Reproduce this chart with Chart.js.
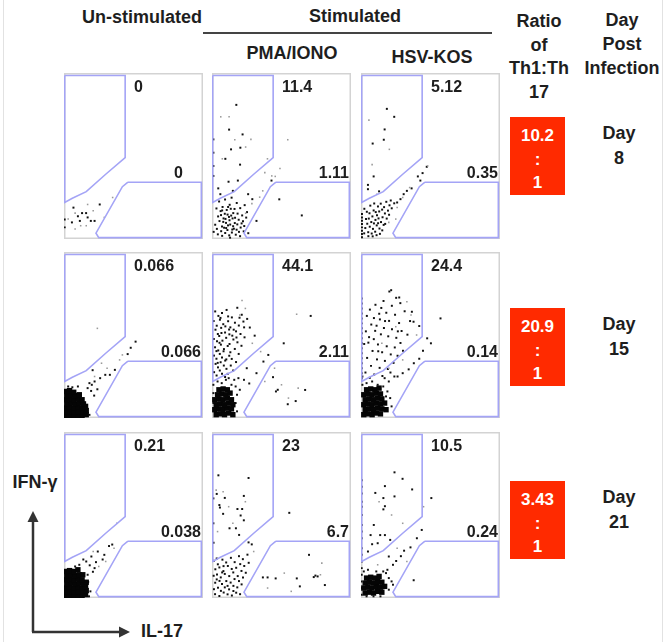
<!DOCTYPE html>
<html><head><meta charset="utf-8">
<script src="https://cdn.jsdelivr.net/npm/chart.js@4/dist/chart.umd.min.js"></script>
<style>
html,body{margin:0;padding:0}
body{width:664px;height:642px;background:#fff;overflow:hidden;position:relative;font-family:"Liberation Sans",Arial,Helvetica,sans-serif;font-weight:bold;color:#1e1e1e}
.t{position:absolute;transform:translate(-50%,-50%);white-space:nowrap;font-size:18px;line-height:1}
.p{position:absolute;width:147px;height:174px}
.box{position:absolute;left:510px;width:55px;height:78px;background:#ff2a00}
.w{color:#fff;font-size:17px}
.edge{position:absolute;top:0;width:1px;height:642px;background:#e2e2e2}
</style></head>
<body>
<div class="edge" style="left:3px"></div>
<div class="edge" style="left:662px"></div>
<div style="position:absolute;left:203px;top:32px;width:289px;height:2px;background:#444"></div>
<svg width="664" height="642" style="position:absolute;left:0;top:0">
  <line x1="33" y1="632" x2="33" y2="519" stroke="#333" stroke-width="2.5"/>
  <polygon points="33,511 27.5,522 38.5,522" fill="#333"/>
  <line x1="32" y1="632" x2="121" y2="632" stroke="#333" stroke-width="2.5"/>
  <polygon points="130,632 119,626.5 119,637.5" fill="#333"/>
</svg>
<script>
// ---- categories ----
const conditions = ['Un-stimulated', 'PMA/IONO', 'HSV-KOS'];
const days = ['8', '15', '21'];
const ratios = ['10.2', '20.9', '3.43'];
// gate percentages (IFN-γ+ upper gate, IL-17+ lower gate) per row
const ifnGammaPct = [['0', '11.4', '5.12'], ['0.066', '44.1', '24.4'], ['0.21', '23', '10.5']];
const il17Pct = [['0', '1.11', '0.35'], ['0.066', '2.11', '0.14'], ['0.038', '6.7', '0.24']];
// gate outlines in plot units (IL-17 on x, IFN-γ on y, 0-100)
const ifnGateX = [0.5, 44, 44, 30, 16, 6, 0.5, 0.5];
const ifnGateY = [98.5, 98.5, 49, 39, 28.5, 24.5, 22, 98.5];
const il17GateX = [46, 98.8, 98.8, 25, 23, 42, 46];
const il17GateY = [34.2, 34.2, 0.8, 0.8, 3.5, 31.5, 34.2];

// ---- events (x = IL-17, y = IFN-γ), flat x,y pairs ----
// Day 8
const d8_unstim_dots = [25.7,20.8, 13,15.6, 15.9,15.6, 19.3,10.9, 22,10.9, 10,13.7, 0.5,11.8, 0.5,7, 6.8,18.9, 11.4,10.9, 5.7,10, 17,13];
const d8_unstim_faint = [17,20.8, 8,15.6, 3,12, 8,6, 16,8, 29,13, 35,25, 21,17, 12,8];
const d8_unstim_dense = [];
const d8_pma_dots = [17.5,80.8, 12.3,65.9, 13.7,54, 20.4,55, 22,63, 1,60, 1,44, 20.2,44.8, 9.6,48.3, 11.9,34.5, 18.6,35.2, 4.5,30.5, 42.8,35.2, 48.4,23.9, 64.6,14.2, 32,10.9, 13,0.8, 1,52, 1,38, 6,27, 15,29, 26,27, 29,24,
 3.2,18.4, 5.1,22.6, 7.6,19.3, 9.4,23.8, 12.7,20.6, 14.1,24.9, 17.8,21.7, 20.3,18.6, 23.5,20.4, 25.2,16.2,
 4.4,13.6, 6.2,16.8, 8.3,12.4, 10.6,17.5, 11.2,14.7, 13.5,18.2, 15.3,15.6, 16.6,12.8, 18.4,15.3, 19.2,11.6, 21.7,14.2, 22.3,10.7, 24.6,12.9,
 2.3,8.6, 5.4,10.8, 7.2,7.5, 8.1,10.3, 9.7,12.1, 10.2,6.6, 12.6,11.3, 13.1,8.7, 14.8,12.4, 15.2,7.7, 16.4,9.6, 17.7,5.6, 18.2,8.8, 20.6,6.9, 21.3,9.4, 23.2,7.8,
 1.2,4.3, 3.5,6.1, 4.2,2.8, 6.6,4.7, 7.3,1.9, 9.5,3.6, 11.1,5.4, 12.4,2.2, 14.3,3.9, 15.7,6.2, 17.1,2.6, 19.4,4.3, 20.2,1.7, 22.8,4.6, 26.1,3.5,
 6.5,14.4, 9.2,15.2, 11.6,19.3, 13.8,14.1, 10.1,9.7, 12.2,13.3, 8.7,6.8, 14.6,5.7, 11.5,8.2, 16.2,18.1, 7.3,17.2];
const d8_pma_faint = [6.3,73.6, 12.3,73.6, 7.4,48.3, 24.2,55.4, 54.5,59.8, 48.9,42.5, 45.5,37.7, 36.5,29, 34.3,25.2, 28.7,21.3, 24.2,15.5, 39.9,48.3, 16.4,59.8, 28,60, 38,40, 43,38];
const d8_pma_dense = [];
const d8_hsv_dots = [18.6,78.4, 23.9,73.6, 17,66, 16.4,59.8, 8.4,57.5, 9.1,37.7, 5,32.6, 5,30, 13,28.7, 36.4,30.5, 42.7,35.2, 47.3,43.5, 30.7,27, 28.4,24, 23.9,21.5, 40.9,37.7, 44.3,39.7, 33,29, 26,22,
 0.7,1, 0.7,3, 0.7,5, 0.7,7, 0.7,9, 0.7,11, 0.7,13, 0.7,15,
 2.3,3.4, 3.1,6.6, 4.5,9.2, 5.2,4.1, 5.6,12.3, 6.3,7.4, 6.1,15.5, 7.4,10.2, 7.7,3.3, 8.2,13.6, 8.6,6.1, 9.3,9.4, 9.1,17.2, 10.4,11.5, 10.2,4.4, 11.5,14.3, 11.3,8.2, 12.2,19.6, 12.6,12.4, 13.3,6.3, 13.1,16.6, 14.4,10.2, 14.2,21.3, 15.5,13.1, 15.2,17.7, 16.3,8.5, 16.6,19.2, 17.2,15.4, 18.5,12.3, 18.2,22.4, 19.4,17.1, 20.2,14.6, 20.5,20.3, 21.4,23.2, 22.1,18.5, 3.6,12.1, 4.2,16.4, 2.4,18.2, 6.7,20.1, 9.5,21.4, 11.2,2.3, 13.6,3.1, 8.4,1.6, 15.3,5.2, 17.4,9.1, 5.3,1.7, 10.6,16.2, 12.3,9.5];
const d8_hsv_faint = [5.7,71.6, 20.4,54, 8,44.8, 11.4,27, 48,44, 35,31, 30,25, 26,19, 20,10, 25,12];
const d8_hsv_dense = [];
// Day 15
const d15_unstim_dots = [20.6,28.8, 24,17.3, 33,26, 36.6,29, 45.8,38.5, 51.5,46, 48,42.3, 18.3,21, 19.5,16.3, 21.7,13.5, 29.7,26, 16,7.7, 18.3,1.9, 20,20, 22,22, 17,18, 3,19, 6,18.5, 10,19, 26,24];
const d15_unstim_faint = [24,54, 27,33, 31,30, 40,35, 42,38, 22,25];
const d15_unstim_dense = [1,1, 4,1.5, 7,1, 10,1.5, 13,1, 16,2,
 1.5,3.5, 4.5,4, 7.5,3.5, 10.5,4, 13.5,3.5, 16,4.5,
 1,6, 4,6.5, 7,6, 10,6.5, 13,6, 15.5,7,
 2,8.5, 5,9, 8,8.5, 11,9, 14,8.5,
 1,11, 4,11.5, 7,11, 10,11.5, 13,11,
 2,13.5, 5,14, 8,13.5, 11,14,
 1,16, 4,16.5, 7,15.5];
const d15_pma_dots = [2.3,64.2, 4.6,61.5, 7.2,63.3, 10.5,65.1, 14.3,60.6, 18.2,66.4, 21.4,62.2, 25.3,59.7,
 1.2,58.4, 3.4,55.6, 5.7,59.2, 8.1,56.5, 11.6,58.3, 13.2,54.6, 16.5,57.4, 19.3,55.7, 22.6,58.1, 27.2,54.5,
 2.5,53.2, 4.2,50.6, 6.6,54.3, 9.4,51.5, 12.3,53.3, 14.6,49.6, 17.3,52.2, 20.5,50.6, 23.4,48.6,
 1.3,47.6, 3.6,46.3, 5.2,49.4, 7.5,46.6, 10.2,48.3, 12.6,44.6, 15.4,47.3, 18.3,45.6, 21.2,43.5,
 2.2,42.6, 4.5,40.7, 6.4,44.2, 8.6,41.5, 11.3,43.4, 13.2,39.6, 16.4,41.6, 19.2,38.6,
 1.4,37.6, 3.2,35.7, 5.6,38.6, 7.2,36.5, 9.5,34.6, 12.4,37.5, 14.2,35.6, 17.3,33.7,
 2.6,32.6, 4.3,30.5, 6.2,33.6, 8.5,31.6, 10.4,29.6, 13.5,31.6, 15.2,28.6,
 1.5,27.6, 3.3,25.6, 5.6,28.6, 7.2,26.7, 9.4,24.7, 11.3,26.6,
 6.1,60.3, 9.6,55.2, 5.4,45.3, 8.3,40.2, 12.5,50.4, 3.2,40.3, 15.6,53.2, 10.3,35.3, 11.6,61.2, 17.6,48.5, 6.8,51.2, 19.8,60.4, 4.1,33.2, 23.1,54.6,
 1,20, 4,22, 7,21, 10,23, 14,20, 17,19, 18,14, 17,9, 18,4, 1,15, 1,9, 16,23, 12,24, 19,24, 20,17,
 30.7,49.6, 51.6,45, 71,61.5, 47.3,17, 54.5,8.3, 60.2,10.2, 67,16.9, 43.9,24.6, 40.5,38, 37,34, 26.8,20.8, 46,16, 25,30, 32,27, 23,23];
const d15_pma_faint = [21.6,70.8, 60.9,62.5, 35,40, 45,30, 50,20, 62,18, 38,22, 55,12, 29,45, 24,66, 20,62];
const d15_pma_dense = [3,2, 6,2.5, 9,2, 12,3, 15,2,
 2,5, 5,5.5, 8,5, 11,6, 14,5.5,
 3,8, 6,8.5, 9,8, 12,9, 15,8,
 2,11, 5,11.5, 8,11, 11,12, 14,11,
 4,14, 7,14.5, 10,14, 13,15,
 5,17, 8,17.5, 11,17];
const d15_hsv_dots = [20.4,76.2, 25.3,72.4, 16.2,70.5, 10.4,68.2, 14.6,66.3, 22.2,67.6, 28.3,69.2, 6.4,65.3, 18.2,63.4, 24.5,62.2, 31.4,64.3, 4.2,61.5, 9.3,60.2, 13.6,59.4, 20.2,58.5, 27.4,57.2, 35.3,58.4,
 7.4,56.3, 11.2,55.6, 16.5,54.2, 22.3,53.5, 29.2,52.4, 3.5,52.2, 14.3,50.4, 19.6,49.2, 25.4,48.3, 9.2,47.5, 33.4,50.2,
 5.3,45.4, 12.2,44.3, 18.5,43.2, 24.3,42.5, 28.4,45.2, 8.3,40.4, 15.2,39.6, 21.4,38.3, 30.2,40.5, 4.4,36.2, 11.5,35.3, 17.2,34.4, 23.4,33.2, 26.3,37.5,
 7.2,31.4, 13.4,30.2, 19.3,29.5, 3.2,27.4, 9.5,26.2, 15.4,25.3, 21.2,27.4, 6.3,24.2, 12.4,40.2, 17.3,58.4, 26.5,52.2, 10.2,52.5, 2.3,44.6, 5.8,48.7, 13.1,62.8,
 0.5,24, 0.5,27, 0.5,30, 0.5,33, 0.5,36, 0.5,39, 0.5,42, 0.5,45, 0.5,48, 0.5,51, 0.5,54, 0.5,57, 0.5,60, 0.5,63, 0.5,66, 0.5,69, 0.5,72,
 1,20, 4,21, 8,22, 12,20, 16,19, 19,16, 21,12, 18,13, 22,7, 20,22, 24,25, 17,24, 1,25,
 36.6,64, 37.8,58, 41.9,55.4, 57.2,60, 47.6,48, 50.3,45, 44.6,40.5, 41.9,35.7, 34.3,29.3, 26.3,25, 21.7,77, 27.5,72.6, 30,27, 38,33];
const d15_hsv_faint = [33,70, 25,55, 15,45, 30,35, 40,50, 20,30, 36,62];
const d15_hsv_dense = [2,2, 5,2.5, 8,2, 11,3, 14,2.5,
 3,5, 6,5.5, 9,5, 12,6, 15,5.5, 18,5,
 2,8, 5,8.5, 8,8, 11,9, 14,8.5, 17,9,
 3,11, 6,11.5, 9,11, 12,12, 15,11.5,
 2,14, 5,14.5, 8,14, 11,15, 14,14.5,
 4,17, 7,17.5, 10,17, 13,18];
// Day 21
const d21_unstim_dots = [13.9,23.2, 19.7,25, 24.3,28, 32.4,31.3, 34.7,32.2, 27.8,23.2, 18.5,19.7, 20.8,15.8, 17.4,9.7, 23,21.6, 29,26, 16,22, 22,18, 11,20, 8,19, 17,14, 19,4, 18,1];
const d21_unstim_faint = [25,19, 30,22, 36,30, 21,28, 38,45];
const d21_unstim_dense = [1,1, 4,1.5, 7,1, 10,1.5, 13,1, 15.5,2,
 1.5,3.5, 4.5,4, 7.5,3.5, 10.5,4, 13.5,3.5, 16,4.5,
 1,6, 4,6.5, 7,6, 10,6.5, 13,6, 15.5,7,
 2,8.5, 5,9, 8,8.5, 11,9, 14,8.5, 16,9.5,
 1,11, 4,11.5, 7,11, 10,11.5, 13,11,
 2,13.5, 5,14, 8,13.5, 11,14, 13.5,14,
 1,16, 4,16.5, 7,16, 10,17];
const d21_pma_dots = [4.6,73.9, 26.3,72.3, 3.4,62.7, 9.2,60.3, 22.9,61.5, 5.3,56, 5.7,54.5, 8,50.7, 18.3,53.6, 21.7,53.6, 20.6,49.7, 22.9,46.8, 12.6,42, 17.2,42, 19.5,38, 26.3,33.5, 28.6,32.3, 1.1,33.3, 3.4,23.8, 1,45, 1,60,
 1.3,22.4, 4.2,20.3, 7.5,23.1, 10.2,21.4, 13.6,24.2, 16.3,21.6, 19.4,25.2, 22.2,23.4, 25.5,26.1,
 2.4,17.3, 5.3,18.4, 8.2,16.2, 11.4,19.3, 14.2,17.5, 17.4,18.2, 20.3,20.4, 23.2,19.3, 26.4,21.2,
 1.2,13.4, 3.6,14.2, 6.3,12.4, 9.2,14.5, 12.4,13.2, 15.3,15.4, 18.5,13.2, 21.2,16.3, 24.3,15.2,
 2.3,9.2, 5.4,10.3, 7.2,8.4, 10.3,10.2, 13.4,9.3, 16.2,11.4, 19.4,10.2, 22.3,12.4,
 1.4,5.3, 4.3,6.2, 6.4,4.3, 9.2,6.4, 12.3,5.2, 15.4,7.3, 18.2,6.4, 21.3,8.2,
 2.2,2.3, 5.3,1.2, 8.4,3.3, 11.2,2.2, 14.3,1.5, 17.4,3.2, 20.2,2.3,
 3.4,11.2, 7.3,15.4, 11.2,7.3, 15.4,4.2, 8.3,19.2,
 69.8,26, 74.4,13.5, 73.2,12.6, 76,13, 61,11.8, 45.8,11.8, 40,12.4, 36.6,12.4, 81.2,7.8, 63.2,7, 55.6,51.3];
const d21_pma_faint = [3,65, 8,64, 12,55, 15,45, 52,15, 79,21, 78,14, 57,4, 40,6, 30,28, 4,40, 24,58];
const d21_pma_dense = [];
const d21_hsv_dots = [24.1,75.7, 29.9,71.8, 17.2,67.4, 10.3,63.3, 24.1,61.2, 16.1,60.2, 17.2,55.3, 16.1,53.4, 36.8,65.4, 50.6,60.2, 9.2,44, 13.8,37.9, 17.2,37.9, 6.9,37.9, 8,32.4, 43.7,41, 40.2,36, 35.6,30.5, 31,28.5, 28.7,25.2, 25.3,22.3, 37.9,10.7, 21,35, 12,33, 5,28, 20,25, 23,20,
 0.5,22, 0.5,26, 0.5,30, 0.5,36, 0.5,40, 0.5,44, 0.5,50, 0.5,55, 0.5,58, 0.5,63, 0.5,67, 0.5,71, 0.5,2, 0.5,6, 0.5,10, 0.5,14, 0.5,18,
 18,15, 20,12, 22,10, 16,16, 19,17, 2,16, 5,17, 11,16, 14,1, 9,1, 4,1, 20,5, 23,8];
const d21_hsv_faint = [13,58, 22,50, 30,45, 26,30, 12,20, 45,55, 33,22];
const d21_hsv_dense = [3,3, 6,3.5, 9,3, 12,4, 15,3.5,
 2,6, 5,6.5, 8,6, 11,7, 14,6.5, 17,7,
 3,9, 6,9.5, 9,9, 12,10, 15,9.5,
 4,12, 7,12.5, 10,12, 13,13];

const panelDots = [[d8_unstim_dots, d8_pma_dots, d8_hsv_dots], [d15_unstim_dots, d15_pma_dots, d15_hsv_dots], [d21_unstim_dots, d21_pma_dots, d21_hsv_dots]];
const panelFaint = [[d8_unstim_faint, d8_pma_faint, d8_hsv_faint], [d15_unstim_faint, d15_pma_faint, d15_hsv_faint], [d21_unstim_faint, d21_pma_faint, d21_hsv_faint]];
const panelDense = [[d8_unstim_dense, d8_pma_dense, d8_hsv_dense], [d15_unstim_dense, d15_pma_dense, d15_hsv_dense], [d21_unstim_dense, d21_pma_dense, d21_hsv_dense]];

// ---- layout ----
const colLeft = [60, 208, 357];
const rowTop = [69, 248, 428];
const PW = 147, PH = 174;
const GATE = '#a4a4f6';

function pts(flat) { const o = []; for (let i = 0; i < flat.length; i += 2) o.push({x: flat[i], y: flat[i + 1]}); return o; }
function poly(xs, ys) { return xs.map((x, i) => ({x, y: ys[i]})); }

function addText(txt, x, y, cls) {
  const d = document.createElement('div');
  d.className = 't' + (cls ? ' ' + cls : '');
  d.textContent = txt;
  d.style.left = x + 'px'; d.style.top = y + 'px';
  document.body.appendChild(d);
}

// headers
addText(conditions[0], 142, 17);
addText('Stimulated', 355, 16);
addText(conditions[1], 292, 53);
addText(conditions[2], 432, 57);
['Ratio', 'of', 'Th1:Th', '17'].forEach((s, i) => addText(s, 539, 21 + i * 23.7));
['Day', 'Post', 'Infection'].forEach((s, i) => addText(s, 622, 20 + i * 24));
addText('IFN-γ', 35, 482);
addText('IL-17', 162, 631);

// ratio boxes and day labels
const boxTop = [117, 308, 481];
days.forEach((d, r) => {
  const b = document.createElement('div');
  b.className = 'box'; b.style.top = boxTop[r] + 'px';
  document.body.appendChild(b);
  addText(ratios[r], 537.5, boxTop[r] + 18, 'w');
  addText(':', 537.5, boxTop[r] + 42, 'w');
  addText('1', 537.5, boxTop[r] + 65, 'w');
  addText('Day', 619, boxTop[r] + 16);
  addText(d, 619, boxTop[r] + 41);
});

const framePlugin = {
  id: 'frame',
  beforeDatasetsDraw(chart) {
    const {ctx, chartArea: a} = chart;
    ctx.save(); ctx.strokeStyle = '#d3d3d3'; ctx.lineWidth = 1.5;
    ctx.strokeRect(a.left + 0.75, a.top + 0.75, a.width - 1.5, a.height - 1.5);
    ctx.restore();
  },
  afterDatasetsDraw(chart, args, opts) {
    const {ctx, chartArea: a} = chart;
    ctx.save();
    ctx.fillStyle = '#1e1e1e';
    ctx.font = 'bold 16px "Liberation Sans", Arial, sans-serif';
    ctx.textBaseline = 'middle';
    ctx.textAlign = 'left';
    ctx.fillText(opts.upper, a.left + 70, a.top + 15);
    ctx.textAlign = 'right';
    ctx.fillText(opts.lower, a.right - opts.lowerInset, a.top + 101);
    ctx.restore();
  }
};

for (let r = 0; r < 3; r++) for (let c = 0; c < 3; c++) {
  const wrap = document.createElement('div');
  wrap.className = 'p';
  wrap.style.left = colLeft[c] + 'px'; wrap.style.top = rowTop[r] + 'px';
  const cv = document.createElement('canvas');
  cv.width = PW; cv.height = PH;
  wrap.appendChild(cv); document.body.appendChild(wrap);
  new Chart(cv, {
    type: 'scatter',
    data: { datasets: [
      { data: poly(ifnGateX, ifnGateY), showLine: true, borderColor: GATE, borderWidth: 1.6, pointRadius: 0, fill: false, tension: 0 },
      { data: poly(il17GateX, il17GateY), showLine: true, borderColor: GATE, borderWidth: 1.6, pointRadius: 0, fill: false, tension: 0 },
      { data: pts(panelFaint[r][c]), pointStyle: 'rect', pointRadius: 1.1, backgroundColor: '#9a9a9a', borderWidth: 0 },
      { data: pts(panelDense[r][c]), pointStyle: 'rect', pointRadius: 3.8, backgroundColor: '#050505', borderWidth: 0 },
      { data: pts(panelDots[r][c]), pointStyle: 'rect', pointRadius: 1.4, backgroundColor: '#111', borderWidth: 0 }
    ]},
    options: {
      responsive: false, animation: false, events: [],
      layout: { padding: 0 },
      plugins: { legend: { display: false }, tooltip: { enabled: false },
        frame: { upper: ifnGammaPct[r][c], lower: il17Pct[r][c], lowerInset: (r === 0 && c === 0) ? 20 : 2 } },
      scales: { x: { display: false, min: 0, max: 100 }, y: { display: false, min: 0, max: 100 } }
    },
    plugins: [framePlugin]
  });
}
</script>
</body></html>
